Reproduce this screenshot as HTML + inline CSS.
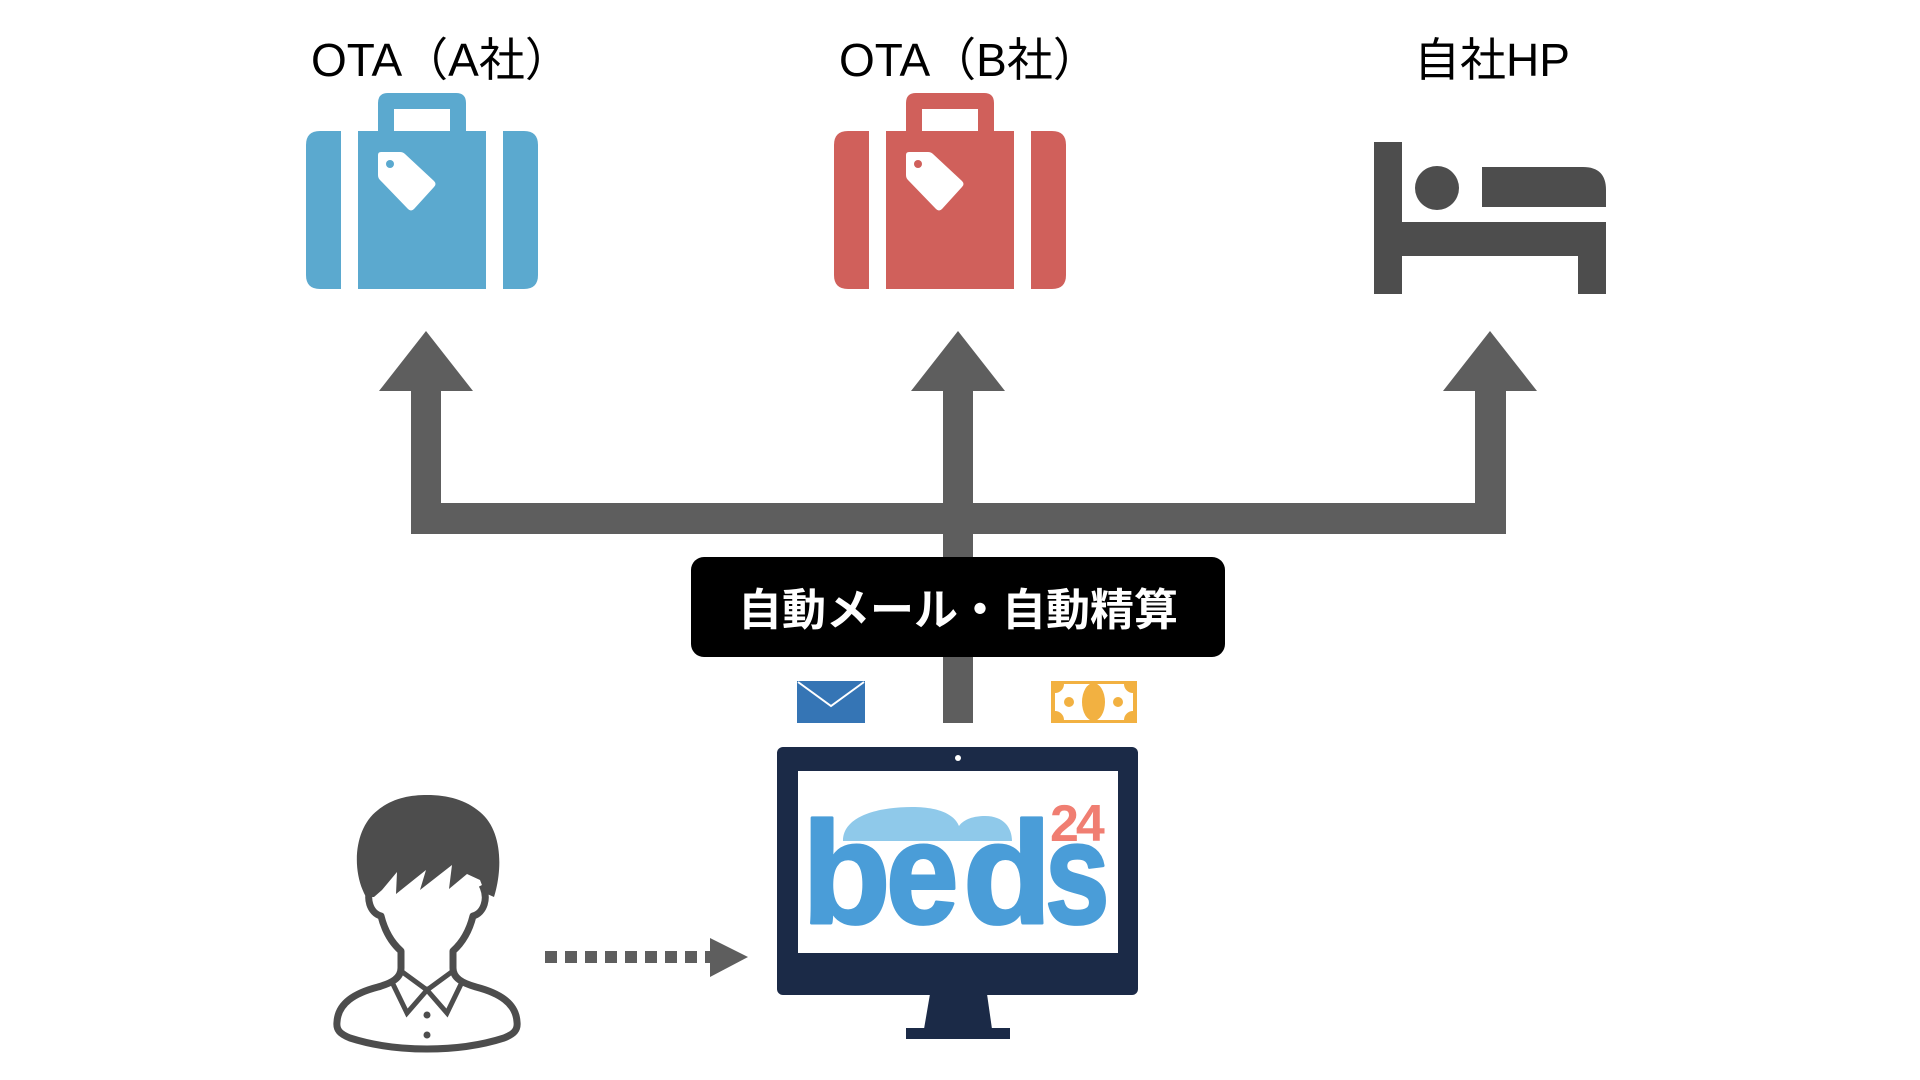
<!DOCTYPE html>
<html>
<head>
<meta charset="utf-8">
<style>
  html, body { margin: 0; padding: 0; background: #ffffff; }
  body { width: 1920px; height: 1080px; overflow: hidden; }
  svg { display: block; }
  .lbl { font-family: "Liberation Sans", "Noto Sans CJK JP", sans-serif; font-size: 46px; fill: #000; }
  .box { font-family: "Liberation Sans", "Noto Sans CJK JP", sans-serif; font-size: 44px; font-weight: bold; fill: #fff; }
  .logo { font-family: "Liberation Sans", "DejaVu Sans", sans-serif; font-weight: bold; }
</style>
</head>
<body>
<svg width="1920" height="1080" viewBox="0 0 1920 1080" xmlns="http://www.w3.org/2000/svg">
  <!-- Top labels -->
  <text class="lbl" x="311" y="76">OTA（A社）</text>
  <text class="lbl" x="839" y="76">OTA（B社）</text>
  <text class="lbl" x="1414" y="76">自社HP</text>

  <!-- Blue suitcase -->
  <g fill="#5BA9CF">
    <path d="M378 131 V103 Q378 93 388 93 H456 Q466 93 466 103 V131 H450 V109 H394 V131 Z"/>
    <path d="M341 131 V289 H320 Q306 289 306 275 V145 Q306 131 320 131 Z"/>
    <rect x="358" y="131" width="128" height="158"/>
    <path d="M503 131 H524 Q538 131 538 145 V275 Q538 289 524 289 H503 Z"/>
  </g>
  <path d="M381 152 H400 Q403 152 405 154 L434 181 Q437 184 434 187 L414 209 Q411 212 408 209 L380 180 Q378 178 378 175 V155 Q378 152 381 152 Z" fill="#fff"/>
  <circle cx="390" cy="164" r="4" fill="#5BA9CF"/>

  <!-- Red suitcase -->
  <g fill="#D0605B">
    <path d="M906 131 V103 Q906 93 916 93 H984 Q994 93 994 103 V131 H978 V109 H922 V131 Z"/>
    <path d="M869 131 V289 H848 Q834 289 834 275 V145 Q834 131 848 131 Z"/>
    <rect x="886" y="131" width="128" height="158"/>
    <path d="M1031 131 H1052 Q1066 131 1066 145 V275 Q1066 289 1052 289 H1031 Z"/>
  </g>
  <path d="M909 152 H928 Q931 152 933 154 L962 181 Q965 184 962 187 L942 209 Q939 212 936 209 L908 180 Q906 178 906 175 V155 Q906 152 909 152 Z" fill="#fff"/>
  <circle cx="918" cy="164" r="4" fill="#D0605B"/>

  <!-- Bed icon -->
  <g fill="#4D4D4D">
    <rect x="1374" y="142" width="28" height="152"/>
    <circle cx="1437" cy="188" r="22"/>
    <path d="M1482 167 H1583 Q1606 167 1606 190 V207 H1482 Z"/>
    <rect x="1402" y="222" width="204" height="34"/>
    <rect x="1578" y="222" width="28" height="72"/>
  </g>

  <!-- Arrows -->
  <g fill="#5E5E5E">
    <polygon points="426,331 473,391 379,391"/>
    <rect x="411" y="390" width="30" height="144"/>
    <polygon points="958,331 1005,391 911,391"/>
    <rect x="943" y="390" width="30" height="333"/>
    <polygon points="1490,331 1537,391 1443,391"/>
    <rect x="1475" y="390" width="31" height="144"/>
    <rect x="411" y="503" width="1095" height="31"/>
  </g>

  <!-- Label box -->
  <rect x="691" y="557" width="534" height="100" rx="13" ry="13" fill="#000"/>
  <text class="box" x="958" y="625" text-anchor="middle">自動メール・自動精算</text>

  <!-- Envelope -->
  <rect x="797" y="681" width="68" height="42" fill="#3575B5"/>
  <polyline points="798,682 831,706 864,682" fill="none" stroke="#fff" stroke-width="2"/>

  <!-- Money -->
  <rect x="1051" y="681" width="86" height="42" fill="#F2B141"/>
  <path d="M1064 684 H1124 A9 9 0 0 0 1133 693 V711 A9 9 0 0 0 1124 720 H1064 A9 9 0 0 0 1055 711 V693 A9 9 0 0 0 1064 684 Z" fill="#fff"/>
  <ellipse cx="1093.5" cy="702" rx="11.5" ry="19" fill="#F2B141"/>
  <circle cx="1069" cy="702" r="5" fill="#F2B141"/>
  <circle cx="1118" cy="702" r="5" fill="#F2B141"/>

  <!-- Monitor -->
  <rect x="777" y="747" width="361" height="248" rx="6" ry="6" fill="#1B2A47"/>
  <rect x="798" y="771" width="320" height="182" fill="#fff"/>
  <circle cx="958" cy="758" r="3" fill="#fff"/>
  <polygon points="930,994 987,994 992,1029 924,1029" fill="#1B2A47"/>
  <rect x="906" y="1028" width="104" height="11" fill="#1B2A47"/>

  <!-- beds24 logo -->
  <path d="M843 841 C843 816 878 807 912 807 C945 807 956 818 959 826 C964 819 974 816 985 816 C1004 816 1012 828 1012 841 Z" fill="#8FC9EA"/>
  <g class="logo" fill="#4A9DD8" stroke="#4A9DD8" stroke-width="3" stroke-linejoin="round">
    <text x="802" y="923" font-size="145">b</text>
    <text transform="translate(886 923) scale(0.9 1)" x="0" y="0" font-size="145">e</text>
    <text x="963" y="923" font-size="145">d</text>
    <text transform="translate(1045 923) scale(0.8 1)" x="0" y="0" font-size="145">s</text>
  </g>
  <text class="logo" x="1050" y="841" font-size="52" letter-spacing="-3" fill="#F07E72">24</text>

  <!-- Person -->
  <path d="M372 885 C365 898 370 913 381 916 C385 932 392 943 401 951 L401 968 C401 978 392 983 378 987 C355 993 338 1003 337 1022 C336 1030 340 1034 350 1038 C375 1046 400 1049 427 1049 C454 1049 479 1046 504 1038 C514 1034 518 1030 517 1022 C516 1003 499 993 476 987 C462 983 453 978 453 968 L453 951 C462 943 469 932 473 916 C484 913 489 898 482 885 Z" fill="#fff" stroke="none"/>
  <path d="M372 885 C365 898 370 913 381 916 C385 932 392 943 401 951 L401 968 C401 978 392 983 378 987 C355 993 338 1003 337 1022 C336 1030 340 1034 350 1038 C375 1046 400 1049 427 1049 C454 1049 479 1046 504 1038 C514 1034 518 1030 517 1022 C516 1003 499 993 476 987 C462 983 453 978 453 968 L453 951 C462 943 469 932 473 916 C484 913 489 898 482 885" fill="none" stroke="#4D4D4D" stroke-width="7" stroke-linejoin="round"/>
  <path d="M366 897 C351 870 354 828 378 810 C393 798 410 795 427 795 C448 795 466 800 480 812 C502 830 503 868 494 897 L485 893 L480 880 L467 874 L449 889 L452 865 L420 890 L426 870 L396 894 L397 872 L382 890 L374 897 Z" fill="#4D4D4D"/>
  <g fill="none" stroke="#4D4D4D" stroke-width="5" stroke-linejoin="miter">
    <polyline points="401,971 427,990 453,971"/>
    <polyline points="391,980 407,1013 427,990 447,1013 463,980"/>
  </g>
  <circle cx="427" cy="1015" r="3.5" fill="#4D4D4D"/>
  <circle cx="427" cy="1035" r="3.5" fill="#4D4D4D"/>

  <!-- Dotted arrow -->
  <g fill="#5E5E5E">
    <rect x="545" y="951" width="12" height="12"/>
    <rect x="565" y="951" width="12" height="12"/>
    <rect x="585" y="951" width="12" height="12"/>
    <rect x="605" y="951" width="12" height="12"/>
    <rect x="625" y="951" width="12" height="12"/>
    <rect x="645" y="951" width="12" height="12"/>
    <rect x="665" y="951" width="12" height="12"/>
    <rect x="685" y="951" width="12" height="12"/>
    <rect x="705" y="951" width="8" height="12"/>
    <polygon points="710,938 748,957 710,977"/>
  </g>
</svg>
</body>
</html>
